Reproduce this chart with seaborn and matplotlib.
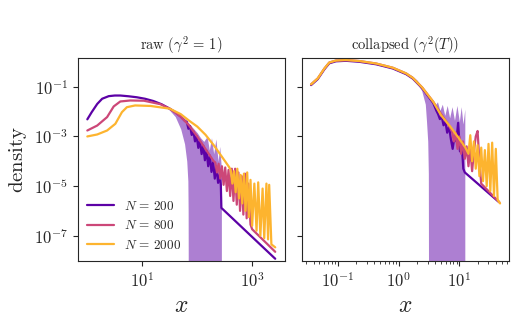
import numpy as np
import pandas as pd
import seaborn as sns
import matplotlib.pyplot as plt
from matplotlib.ticker import NullLocator, LogLocator

# values, stored as log10(x), log10(density)
labels = ["$N\\,=\\,200$", "$N\\,=\\,800$", "$N\\,=\\,2000$"]
colors = ["#5c01a6", "#cc4778", "#fdb42f"]

# ---- raw panel ----
raw_lx_200 = [0.0, 0.08, 0.18, 0.27, 0.39, 0.5, 0.6, 0.75, 0.9, 1.05, 1.2, 1.35, 1.5, 1.6, 1.7, 1.78,
              1.81, 1.84, 1.87, 1.90, 1.93, 1.96, 1.99, 2.02, 2.05, 2.08, 2.11, 2.14, 2.17, 2.20,
              2.23, 2.26, 2.29, 2.32, 2.35, 2.38, 2.41, 2.43, 2.44, 3.42]
raw_ly_200 = [-2.31, -2.02, -1.69, -1.48, -1.375, -1.35, -1.35, -1.38, -1.42, -1.48, -1.57, -1.7, -1.88, -2.02, -2.2, -2.38,
              -2.41, -2.69, -2.58, -2.94, -2.79, -3.20, -2.98, -3.46, -3.17, -3.71, -3.37, -3.96, -3.57, -4.20,
              -3.77, -4.43, -4.04, -4.70, -4.21, -4.87, -4.53, -4.96, -5.88, -7.93]

raw_lx_800 = [0.0, 0.18, 0.36, 0.48, 0.6, 0.78, 1.03, 1.33, 1.5, 1.7, 1.85, 2.0, 2.15, 2.3,
              2.33, 2.36, 2.39, 2.42, 2.45, 2.48, 2.51, 2.54, 2.57, 2.60, 2.63, 2.66, 2.69, 2.72,
              2.75, 2.78, 2.81, 2.84, 2.87, 2.90, 2.93, 2.97, 3.0, 3.42]
raw_ly_800 = [-2.76, -2.56, -2.22, -1.79, -1.59, -1.55, -1.56, -1.7, -1.88, -2.2, -2.55, -3.0, -3.5, -4.0,
              -4.05, -4.45, -4.1, -4.7, -4.2, -4.95, -4.25, -5.2, -4.35, -5.4, -4.3, -5.6, -4.3, -5.75,
              -4.45, -6.0, -4.6, -6.15, -4.5, -6.3, -4.9, -6.55, -6.74, -7.65]

raw_lx_2000 = [0.0, 0.18, 0.36, 0.51, 0.63, 0.72, 0.87, 1.15, 1.5, 1.7, 1.85, 2.0, 2.15, 2.3, 2.45, 2.58,
               2.61, 2.64, 2.67, 2.70, 2.73, 2.76, 2.79, 2.82, 2.85, 2.88, 2.91, 2.94, 2.97, 3.00,
               3.04, 3.08, 3.11, 3.15, 3.19, 3.22, 3.26, 3.29, 3.31, 3.35, 3.42]
raw_ly_2000 = [-3.0, -2.92, -2.76, -2.49, -2.02, -1.82, -1.75, -1.77, -1.88, -2.1, -2.36, -2.6, -2.93, -3.35, -3.82, -4.23,
               -4.35, -4.9, -4.4, -5.25, -4.3, -5.5, -4.55, -5.7, -4.5, -6.0, -4.45, -6.25, -4.75, -6.6,
               -4.9, -6.8, -4.85, -7.0, -5.1, -7.1, -4.9, -7.15, -4.95, -7.35, -7.47]

# spread band of N=200 (lower edge falls to zero)
raw_band_lx = [1.40, 1.50, 1.60, 1.70, 1.77, 1.81, 1.83, 1.835, 1.84, 1.90, 2.00, 2.06, 2.12, 2.18, 2.22,
               2.26, 2.30, 2.34, 2.38, 2.41, 2.44]
raw_band_hi = [-1.73, -1.85, -1.98, -2.15, -2.28, -2.37, -2.42, -2.43, -2.44, -2.6, -2.85, -3.05, -3.2, -3.0,
               -3.55, -3.05, -3.7, -3.1, -4.0, -3.4, -4.3]
raw_band_lo = [-1.78, -1.95, -2.2, -2.7, -3.3, -4.0, -4.8, -6.0] + [-12] * 13

# ---- collapsed panel ----
col_body_lx = [-1.44, -1.33, -1.22, -1.14, -1.03, -0.865, -0.645, -0.37, -0.095, 0.125, 0.235, 0.39, 0.57]
col_body_ly_200 = [-0.93, -0.69, -0.29, -0.05, 0.03, 0.05, 0.01, -0.09, -0.26, -0.49, -0.67, -1.06, -1.65]
col_body_ly = [-0.90, -0.66, -0.26, -0.02, 0.06, 0.08, 0.04, -0.06, -0.23, -0.46, -0.64, -1.03, -1.6]

col_tail_lx_200 = [0.62, 0.65, 0.68, 0.71, 0.74, 0.77, 0.80, 0.83, 0.86, 0.89, 0.92, 0.95, 0.98, 1.01, 1.04, 1.065, 1.09, 1.64]
col_tail_ly_200 = [-1.95, -2.1, -2.3, -2.2, -2.55, -2.4, -2.85, -2.6, -3.1, -3.5, -3.0, -3.2, -2.45, -3.6, -3.3, -4.3, -4.45, -5.62]

col_tail_lx_800 = [0.70, 0.80, 0.88, 0.91, 0.94, 0.97, 1.00, 1.03, 1.06, 1.09, 1.12, 1.15, 1.18, 1.21, 1.24, 1.27, 1.30, 1.33, 1.36, 1.66]
col_tail_ly_800 = [-2.1, -2.45, -2.8, -3.2, -2.85, -3.5, -3.0, -3.7, -3.2, -3.9, -3.4, -4.2, -3.5, -4.4, -3.6, -3.0, -2.78, -4.0, -4.9, -5.66]

col_tail_lx_2000 = [0.70, 0.85, 1.0, 1.1, 1.15, 1.18, 1.21, 1.24, 1.27, 1.30, 1.33, 1.36, 1.39, 1.42, 1.45, 1.48,
                    1.51, 1.54, 1.57, 1.60, 1.63, 1.67]
col_tail_ly_2000 = [-2.15, -2.6, -3.1, -3.45, -3.7, -2.95, -4.0, -3.2, -4.3, -3.35, -4.6, -3.45, -4.8, -3.55, -5.0, -3.3,
                    -5.2, -3.25, -5.4, -3.5, -5.55, -5.70]

col_band_lx = [0.20, 0.30, 0.38, 0.44, 0.46, 0.48, 0.49, 0.495, 0.55, 0.60, 0.64, 0.68, 0.72, 0.76, 0.80,
               0.84, 0.88, 0.92, 0.96, 1.0, 1.03, 1.06, 1.09]
col_band_hi = [-0.52, -0.72, -0.98, -1.2, -1.26, -1.32, -1.35, -1.36, -1.55, -1.75, -1.6, -1.95, -1.7, -2.15, -1.75,
               -2.25, -1.8, -2.35, -1.75, -2.4, -1.8, -2.5, -1.9]
col_band_lo = [-0.6, -0.85, -1.15, -1.7, -2.4, -3.2, -4.5] + [-12] * 16


def frame(lx, ly, lab):
    return pd.DataFrame({"x": 10 ** np.array(lx), "density": 10 ** np.array(ly), "N": lab})


raw = pd.concat([frame(raw_lx_200, raw_ly_200, labels[0]),
                 frame(raw_lx_800, raw_ly_800, labels[1]),
                 frame(raw_lx_2000, raw_ly_2000, labels[2])])
col = pd.concat([frame(col_body_lx + col_tail_lx_200, col_body_ly_200 + col_tail_ly_200, labels[0]),
                 frame(col_body_lx + col_tail_lx_800, col_body_ly + col_tail_ly_800, labels[1]),
                 frame(col_body_lx + col_tail_lx_2000, col_body_ly + col_tail_ly_2000, labels[2])])

sns.set_style("ticks")
plt.rcParams["font.family"] = "serif"
plt.rcParams["font.serif"] = ["cmr10", "DejaVu Serif"]
plt.rcParams["mathtext.fontset"] = "cm"
plt.rcParams["axes.formatter.use_mathtext"] = True

pal = dict(zip(labels, colors))

fig, (ax1, ax2) = plt.subplots(1, 2, figsize=(5.23, 3.23), dpi=100, sharey=True)
fig.subplots_adjust(left=0.149, right=0.973, bottom=0.192, top=0.821, wspace=0.0855)

for ax, df, blx, bhi, blo in [(ax1, raw, raw_band_lx, raw_band_hi, raw_band_lo),
                              (ax2, col, col_band_lx, col_band_hi, col_band_lo)]:
    ax.fill_between(10 ** np.array(blx), 10 ** np.array(blo), 10 ** np.array(bhi),
                    color=colors[0], alpha=0.5, lw=0)
    sns.lineplot(data=df, x="x", y="density", hue="N", palette=pal, estimator=None,
                 lw=1.6, ax=ax, legend=(ax is ax1))
    ax.set_xscale("log")
    ax.set_yscale("log")
    ax.set_xlabel("$x$", fontsize=17)
    ax.tick_params(labelsize=12)

ax1.set_xlim(10 ** -0.171, 10 ** 3.59)
ax2.set_xlim(10 ** -1.585, 10 ** 1.815)
ax1.set_ylim(10 ** -8.02, 10 ** 0.17)
ax1.set_yticks([1e-7, 1e-5, 1e-3, 1e-1])
ax1.yaxis.set_minor_locator(NullLocator())
ax1.set_xticks([1e1, 1e3])
ax1.xaxis.set_minor_locator(NullLocator())
ax2.set_xticks([1e-1, 1e0, 1e1])
ax2.xaxis.set_minor_locator(LogLocator(subs=np.arange(2, 10)))

ax1.set_ylabel(r"$\mathrm{density}$", fontsize=15)
ax2.set_ylabel("")
ax1.set_title(r"$\mathrm{raw}\ (\gamma^2\,=\,1)$", fontsize=10.5)
ax2.set_title(r"$\mathrm{collapsed}\ (\gamma^2(T))$", fontsize=10.5)

ax1.legend(loc="lower left", frameon=False, fontsize=9.5, borderaxespad=0.3)

fig.savefig("out.png", dpi=100)
